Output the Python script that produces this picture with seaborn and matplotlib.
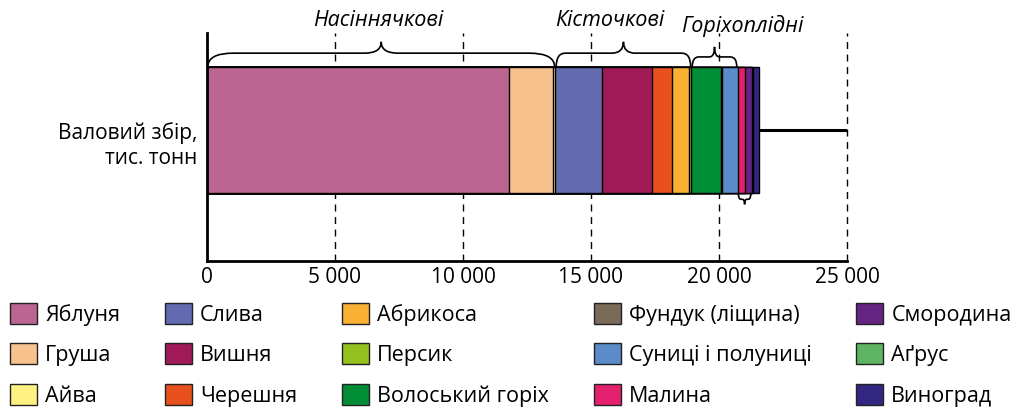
import numpy as np
import pandas as pd
import matplotlib.pyplot as plt
import seaborn as sns
from matplotlib.patches import Patch, PathPatch
from matplotlib.path import Path

fruits = ['Яблуня', 'Груша', 'Айва', 'Слива', 'Вишня', 'Черешня', 'Абрикоса', 'Персик',
          'Волоський горіх', 'Фундук (ліщина)', 'Суниці і полуниці', 'Малина',
          'Смородина', 'Аґрус', 'Виноград']
harvest = [11810, 1720, 80, 1820, 1940, 780, 660, 115, 1150, 30, 620, 300, 250, 50, 245]
colors = ['#BC6590', '#F8C28E', '#FFF082', '#636BB0', '#A01A58', '#E8511E', '#F8B133',
          '#95C11F', '#008D36', '#7A6A58', '#5B8BC8', '#E5206F', '#662482', '#5DB463',
          '#312783']

# groups: label, first index, end index (exclusive)
group_names = ['Насіннячкові', 'Кісточкові', 'Горіхоплідні', '']
group_start = [0, 3, 8, 11]
group_end = [3, 8, 11, 13]

xticks = [0, 5000, 10000, 15000, 20000, 25000]
xtick_labels = ['0', '5 000', '10 000', '15 000', '20 000', '25 000']
row_label = 'Валовий збір,\nтис. тонн'

sns.set_style('white')
plt.rcParams['font.family'] = ['Open Sans', 'DejaVu Sans']
plt.rcParams['text.color'] = 'black'
plt.rcParams['xtick.color'] = 'black'
plt.rcParams['ytick.color'] = 'black'
plt.rcParams['axes.labelcolor'] = 'black'


def draw_brace(ax, x0, x1, y0, h_mid, h_tip, r, rt):
    xc = (x0 + x1) / 2
    ym = y0 + h_mid
    yt = y0 + h_tip
    verts = [(x0, y0), (x0, ym), (x0 + r, ym), (xc - rt, ym), (xc, ym), (xc, yt),
             (xc, yt), (xc, ym), (xc + rt, ym), (x1 - r, ym), (x1, ym), (x1, y0)]
    codes = [Path.MOVETO, Path.CURVE3, Path.CURVE3, Path.LINETO, Path.CURVE3, Path.CURVE3,
             Path.MOVETO, Path.CURVE3, Path.CURVE3, Path.LINETO, Path.CURVE3, Path.CURVE3]
    ax.add_patch(PathPatch(Path(verts, codes), fill=False, lw=1.2, color='black',
                           clip_on=False, zorder=4))
    return xc, yt


fig = plt.figure(figsize=(10.2, 4.09), dpi=100)
ax = fig.add_axes([207 / 1020, 1 - 261 / 409, 640 / 1020, 228 / 409])

cum = np.cumsum(harvest)
df = pd.DataFrame({'fruit': fruits, 'cum': cum, 'row': row_label})
palette = dict(zip(fruits, colors))

# stacked look: draw cumulative bars, longest first
sns.barplot(data=df, x='cum', y='row', hue='fruit', hue_order=fruits[::-1],
            palette=palette, dodge=False, saturation=1, width=1, orient='h',
            edgecolor='black', linewidth=1, legend=False, ax=ax, zorder=3)

# whisker line to the right edge
ax.plot([cum[-1], xticks[-1]], [0, 0], color='black', lw=2.2, zorder=2)

ax.set_xlim(0, 25000)
ax.set_ylim(1.04, -0.77)

for t in xticks[1:]:
    ax.axvline(t, color='black', lw=1, ls=(0, (5, 4)), zorder=1, clip_on=False)

ax.set_xticks(xticks)
ax.set_xticklabels(xtick_labels, fontsize=15)
ax.tick_params(axis='x', length=0, pad=4)
ax.set_yticks([])
ax.set_xlabel('')
ax.set_ylabel('')
for s in ['top', 'right']:
    ax.spines[s].set_visible(False)
for s in ['left', 'bottom']:
    ax.spines[s].set_linewidth(2)
    ax.spines[s].set_color('black')
    ax.spines[s].set_zorder(5)

ax.annotate(row_label, xy=(0, 0), xycoords=('axes fraction', 'data'),
            xytext=(-10, -16), textcoords='offset pixels', ha='right', va='center',
            fontsize=15, linespacing=1.25)

# braces over the groups
edges = np.concatenate([[0], cum])
brace_r = [1000, 350, 250, 100]
brace_rt = [650, 450, 200, 90]
label_dx = [-3, -14, 28, 0]
for i, name in enumerate(group_names):
    x0 = edges[group_start[i]] + 30
    x1 = edges[group_end[i]] - 30
    if name:
        h_mid, h_tip = (-0.11, -0.2) if i < 2 else (-0.08, -0.16)
        xc, yt = draw_brace(ax, x0, x1, -0.5, h_mid, h_tip, brace_r[i], brace_rt[i])
        ax.annotate(name, xy=(xc, yt), xytext=(label_dx[i], 21),
                    textcoords='offset pixels', ha='center', va='center',
                    fontsize=15.5, style='italic')
    else:
        draw_brace(ax, x0, x1, 0.5, 0.05, 0.09, brace_r[i], brace_rt[i])

handles = [Patch(facecolor=c, edgecolor='#222222', lw=1) for c in colors]
fig.legend(handles, fruits, ncol=5, loc='upper left', bbox_to_anchor=(10 / 1020, 1 - 303 / 409),
           frameon=False, fontsize=15.5, handlelength=1.26, handleheight=1.12,
           handletextpad=0.37, columnspacing=2.08, labelspacing=0.82, borderpad=0,
           borderaxespad=0)

fig.savefig('out.png', dpi=100)
